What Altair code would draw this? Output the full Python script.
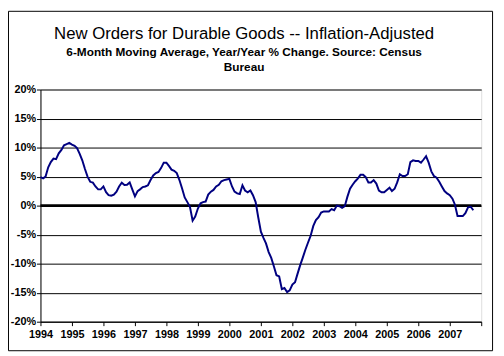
import altair as alt
import pandas as pd

# ---- text ----
TITLE = "New Orders for Durable Goods -- Inflation-Adjusted"
SUBTITLE_1 = "6-Month Moving Average, Year/Year % Change. Source: Census"
SUBTITLE_2 = "Bureau"

# ---- monthly values (%) ----
v1994 = [4.9, 4.7, 5.0, 6.6, 7.5, 8.1, 8.0, 9.0, 9.6, 10.4, 10.6, 10.8]
v1995 = [10.5, 10.3, 9.9, 8.9, 7.8, 6.3, 5.0, 4.1, 3.95, 3.3, 2.8, 2.8]
v1996 = [3.3, 2.3, 1.8, 1.7, 1.9, 2.4, 3.3, 3.95, 3.55, 3.6, 4.0, 2.8]
v1997 = [1.6, 2.5, 2.8, 3.2, 3.3, 3.5, 4.4, 5.2, 5.6, 5.8, 6.5, 7.4]
v1998 = [7.4, 6.8, 6.2, 6.0, 5.6, 4.4, 3.0, 1.4, 0.6, -0.2, -2.6, -1.9]
v1999 = [-0.5, 0.4, 0.6, 0.7, 1.9, 2.4, 2.7, 3.3, 3.6, 4.2, 4.4, 4.5]
v2000 = [4.6, 3.3, 2.4, 2.1, 2.0, 3.5, 2.6, 2.3, 2.6, 1.8, 0.6, -2.0]
v2001 = [-4.5, -5.6, -6.5, -8.0, -9.0, -10.5, -12.0, -12.2, -14.4, -14.2, -14.9, -14.6]
v2002 = [-13.6, -13.2, -11.8, -10.3, -9.0, -7.6, -6.4, -5.2, -3.5, -2.5, -2.0, -1.2]
v2003 = [-1.0, -1.0, -1.0, -0.6, -0.8, 0.0, -0.1, -0.4, -0.1, 1.5, 2.9, 3.6]
v2004 = [4.2, 4.7, 5.3, 5.3, 4.9, 4.0, 4.0, 4.4, 3.8, 2.6, 2.3, 2.3]
v2005 = [2.7, 3.1, 2.5, 2.9, 4.0, 5.4, 5.1, 5.1, 5.4, 7.5, 7.8, 7.7]
v2006 = [7.7, 7.4, 7.9, 8.5, 7.4, 5.9, 5.1, 4.8, 4.1, 3.3, 2.5, 2.1]
v2007 = [1.8, 1.2, 0.2, -1.8, -1.8, -1.8, -1.3, -0.3, -0.2, -0.8]

pct_change = (v1994 + v1995 + v1996 + v1997 + v1998 + v1999 + v2000 +
              v2001 + v2002 + v2003 + v2004 + v2005 + v2006 + v2007)
months = [f"{1994 + i // 12}-{i % 12 + 1:02d}-01" for i in range(len(pct_change))]

y_ticks = [-20, -15, -10, -5, 0, 5, 10, 15, 20]
x_years = list(range(1994, 2009))
zero_level = [0]

FONT = "Liberation Sans"

df = pd.DataFrame({"month": months, "pct": pct_change})
zero_df = pd.DataFrame({"pct": zero_level})
one = pd.DataFrame({"k": [0]})

x_enc = alt.X(
    "month:T",
    scale=alt.Scale(
        type="utc",
        domain=[alt.DateTime(year=1994, month=1, date=1, utc=True),
                alt.DateTime(year=2008, month=1, date=1, utc=True)],
    ),
    axis=alt.Axis(
        title=None,
        values=[alt.DateTime(year=y, month=1, date=1, utc=True) for y in x_years],
        labelExpr="utcyear(datum.value) >= 2008 ? '' : utcFormat(datum.value, '%Y')",
        labelOverlap=False,
        labelFlush=False,
        grid=False,
        domainColor="black",
        domainWidth=1,
        tickColor="black",
        tickSize=4,
        labelFont=FONT,
        labelFontSize=11,
        labelFontWeight="bold",
        labelColor="black",
        labelPadding=3,
        labelAngle=0,
    ),
)

y_axis = alt.Axis(
    title=None,
    values=y_ticks,
    tickCount=9,
    labelExpr="datum.value + '%'",
    labelOverlap=False,
    labelFlush=False,
    grid=True,
    gridColor="black",
    gridWidth=1,
    gridOpacity=1,
    domainColor="black",
    tickColor="black",
    tickSize=4,
    labelFont=FONT,
    labelFontSize=11,
    labelFontWeight="bold",
    labelColor="black",
    labelPadding=1,
)
y_scale = alt.Scale(domain=[-20, 20], nice=False, zero=False)

zero_rule = alt.Chart(zero_df).mark_rule(color="black", strokeWidth=3).encode(
    y=alt.Y("pct:Q", scale=y_scale, axis=y_axis)
)

line = alt.Chart(df).mark_line(color="#000080", strokeWidth=2).encode(
    x=x_enc, y=alt.Y("pct:Q", scale=y_scale, axis=y_axis)
)

title = alt.Chart(one).mark_text(
    font=FONT, fontSize=17, color="black", align="center", baseline="middle"
).encode(x=alt.value(207), y=alt.value(-56), text=alt.value(TITLE))

sub1 = alt.Chart(one).mark_text(
    font=FONT, fontSize=12, fontWeight="bold", color="black", align="center", baseline="middle"
).encode(x=alt.value(207), y=alt.value(-38), text=alt.value(SUBTITLE_1))

sub2 = alt.Chart(one).mark_text(
    font=FONT, fontSize=12, fontWeight="bold", color="black", align="center", baseline="middle"
).encode(x=alt.value(207), y=alt.value(-23), text=alt.value(SUBTITLE_2))

border = alt.Chart(one).mark_rect(fillOpacity=0, stroke="black", strokeWidth=1).encode(
    x=alt.value(-32.5), x2=alt.value(459.5), y=alt.value(-79.5), y2=alt.value(265.5)
)

chart = (
    alt.layer(zero_rule, line, title, sub1, sub2, border)
    .properties(
        width=448,
        height=236,
        autosize=alt.AutoSizeParams(type="none"),
        padding={"left": 33, "top": 80, "right": 15, "bottom": 32},
    )
    .configure_view(stroke="black", strokeWidth=1)
    .configure(background="white")
)

chart.save("out.html", embed_options={"renderer": "svg", "actions": False})
